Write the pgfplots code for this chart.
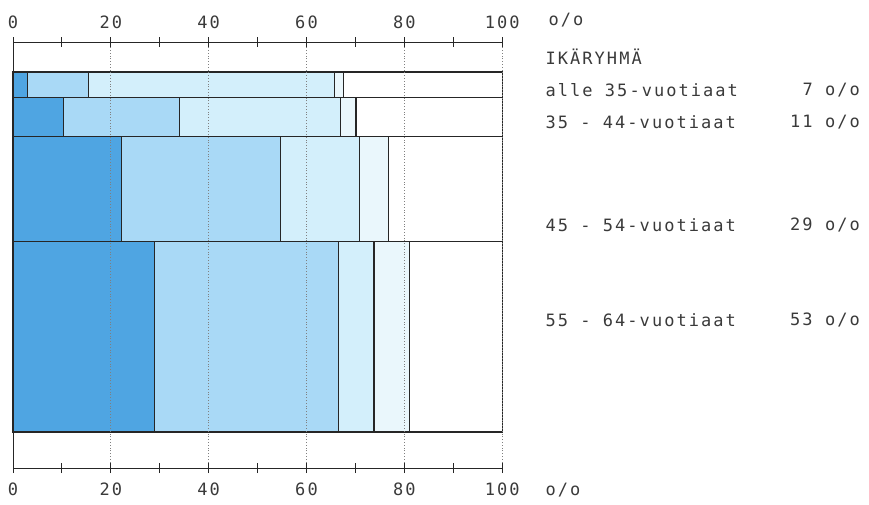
\documentclass[border=0pt]{standalone}
\usepackage{fontspec}
\setmainfont{DejaVu Sans Mono}[LetterSpace=12]
\usepackage{pgfplots}
\pgfplotsset{compat=1.18}
\definecolor{cA}{HTML}{4FA5E2}
\definecolor{cB}{HTML}{A9D9F6}
\definecolor{cC}{HTML}{D3EFFB}
\definecolor{cD}{HTML}{EAF7FC}
\definecolor{txt}{HTML}{3A3A3A}
\newcommand\seg[5]{\addplot[fill=#5,draw=black!85,line width=0.6pt] coordinates {(#1,#3) (#2,#3) (#2,#4) (#1,#4)} -- cycle;}
\begin{document}
\fontsize{8.5}{10}\selectfont
\begin{tikzpicture}
\begin{axis}[
  scale only axis, width=244.5pt, height=212.9pt,
  xmin=0, xmax=100, ymin=-10, ymax=108.3,
  axis x line=bottom, axis y line=left,
  axis line style={-, black!85, line width=0.5pt},
  ytick=\empty,
  xtick={0,20,...,100}, minor xtick={10,30,...,90},
  xtick align=center, major tick length=5pt, minor tick length=5pt,
  tick style={black!85, line width=0.5pt},
  xmajorgrids, grid style={densely dotted, gray, line width=0.4pt},
  axis on top, clip=false,
  /pgf/number format/assume math mode=true,
  xticklabel style={font=\fontsize{8.5}{10}\selectfont, text=txt, yshift=-2pt},
]
% row 1: alle 35 (93-100)
\seg{0}{3}{93}{100}{cA}
\seg{3}{15.4}{93}{100}{cB}
\seg{15.4}{65.8}{93}{100}{cC}
\seg{65.8}{67.5}{93}{100}{cD}
\seg{67.5}{100}{93}{100}{white}
% row 2: 35-44 (82-93)
\seg{0}{10.3}{82}{93}{cA}
\seg{10.3}{34}{82}{93}{cB}
\seg{34}{66.9}{82}{93}{cC}
\seg{66.9}{70.1}{82}{93}{cD}
\seg{70.1}{100}{82}{93}{white}
% row 3: 45-54 (53-82)
\seg{0}{22.1}{53}{82}{cA}
\seg{22.1}{54.7}{53}{82}{cB}
\seg{54.7}{70.9}{53}{82}{cC}
\seg{70.9}{76.8}{53}{82}{cD}
\seg{76.8}{100}{53}{82}{white}
% row 4: 55-64 (0-53)
\seg{0}{29}{0}{53}{cA}
\seg{29}{66.5}{0}{53}{cB}
\seg{66.5}{73.8}{0}{53}{cC}
\seg{73.8}{81}{0}{53}{cD}
\seg{81}{100}{0}{53}{white}
\begin{scope}[every node/.style={text=txt, font=\fontsize{8.5}{10}\selectfont, inner sep=0pt}]
\node[anchor=west] at (axis cs:109.4,114.4) {o/o};
\node[anchor=west] at (axis cs:108.8,-16.1) {o/o};
\node[anchor=west] at (axis cs:108.8,104.2) {IKÄRYHMÄ};
\node[anchor=west] at (axis cs:108.8,95) {alle 35-vuotiaat};
\node[anchor=east] at (axis cs:173.2,95) {7 o/o};
\node[anchor=west] at (axis cs:108.8,86.1) {35 - 44-vuotiaat};
\node[anchor=east] at (axis cs:173.2,86.1) {11 o/o};
\node[anchor=west] at (axis cs:108.8,57.5) {45 - 54-vuotiaat};
\node[anchor=east] at (axis cs:173.2,57.5) {29 o/o};
\node[anchor=west] at (axis cs:108.8,31.1) {55 - 64-vuotiaat};
\node[anchor=east] at (axis cs:173.2,31.1) {53 o/o};
\end{scope}
\coordinate (bbl) at (axis cs:-2.66,-20);
\coordinate (btr) at (axis cs:175,120);
\end{axis}
\begin{axis}[
  scale only axis, width=244.5pt, height=212.9pt,
  xmin=0, xmax=100, ymin=-10, ymax=108.3,
  axis x line=top, axis y line=none,
  axis line style={-, black!85, line width=0.5pt},
  ytick=\empty,
  xtick={0,20,...,100}, minor xtick={10,30,...,90},
  xtick align=center, major tick length=5pt, minor tick length=5pt,
  tick style={black!85, line width=0.5pt},
  /pgf/number format/assume math mode=true,
  xticklabel style={font=\fontsize{8.5}{10}\selectfont, text=txt, yshift=1pt},
]
\end{axis}
\pgfresetboundingbox
\path[use as bounding box] (bbl) rectangle (btr);
\end{tikzpicture}
\end{document}
